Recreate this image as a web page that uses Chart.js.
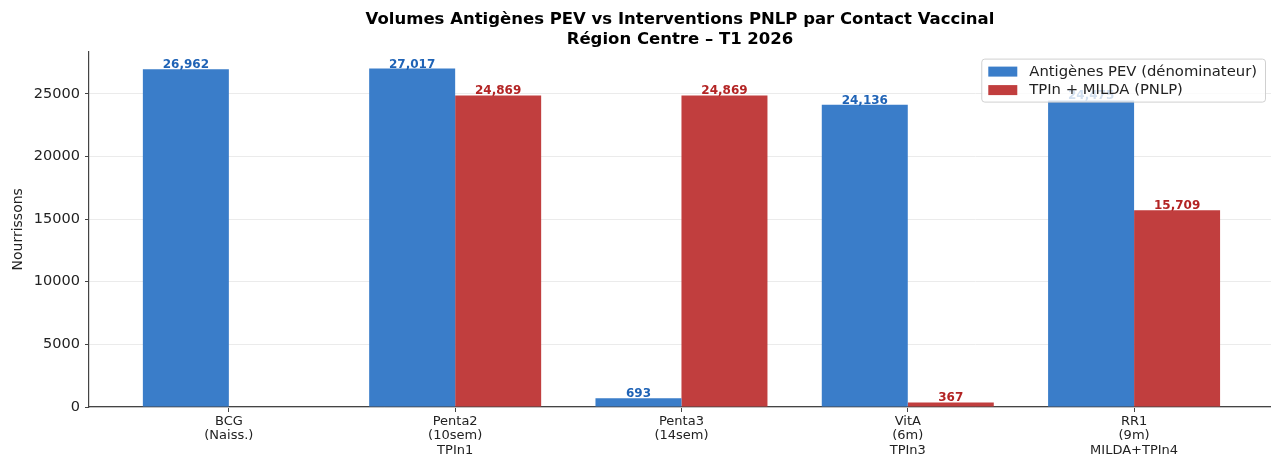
<!DOCTYPE html>
<html><head><meta charset="utf-8">
<script src="https://cdn.jsdelivr.net/npm/chart.js@4.4.1/dist/chart.umd.min.js"></script>
<style>html,body{margin:0;padding:0;background:#fff;} canvas{display:block;}</style>
</head><body>
<canvas id="c" width="1271" height="456"></canvas>
<script>
const categories = [["BCG","(Naiss.)"],["Penta2","(10sem)","TPIn1"],["Penta3","(14sem)"],["VitA","(6m)","TPIn3"],["RR1","(9m)","MILDA+TPIn4"]];
const pevValues = [26962, 27017, 693, 24136, 24475];
const pnlpValues = [null, 24869, 24869, 367, 15709];
const seriesNames = ["Antigènes PEV (dénominateur)", "TPIn + MILDA (PNLP)"];
const yTicks = [0, 5000, 10000, 15000, 20000, 25000];
const titleLines = ["Volumes Antigènes PEV vs Interventions PNLP par Contact Vaccinal", "Région Centre – T1 2026"];
const yAxisTitle = "Nourrissons";

const FONT = "'DejaVu Sans', sans-serif";
const BLUE = '#3A7DC9', RED = '#C13E3E';
const BLUE_TXT = '#1f63b6', RED_TXT = '#b32424';

Chart.defaults.font.family = FONT;
Chart.defaults.color = '#222';

const fmt = v => v.toLocaleString('en-US');

const valueLabels = {
  id: 'valueLabels',
  afterDatasetsDraw(chart) {
    const ctx = chart.ctx;
    ctx.save();
    ctx.font = "bold 12px " + FONT;
    ctx.textAlign = 'center';
    ctx.textBaseline = 'alphabetic';
    chart.data.datasets.forEach((ds, di) => {
      const meta = chart.getDatasetMeta(di);
      meta.data.forEach((el, i) => {
        const v = ds.data[i].y;
        if (v === null || v === 0) return;
        ctx.fillStyle = di === 0 ? BLUE_TXT : RED_TXT;
        ctx.fillText(fmt(v), el.x, el.y - 1);
      });
    });
    ctx.restore();
  }
};

const boxLegend = {
  id: 'boxLegend',
  afterDraw(chart) {
    const ctx = chart.ctx;
    const ca = chart.chartArea;
    ctx.save();
    ctx.font = "14.8px " + FONT;
    const tw = Math.max(...seriesNames.map(s => ctx.measureText(s).width));
    const right = ca.right - 6, top = ca.top + 7;
    const w = 48 + tw + 8, h = 43;
    const left = right - w;
    ctx.beginPath();
    if (ctx.roundRect) ctx.roundRect(left + 0.5, top + 0.5, w, h, 3); else ctx.rect(left + 0.5, top + 0.5, w, h);
    ctx.fillStyle = 'rgba(255,255,255,0.8)';
    ctx.fill();
    ctx.strokeStyle = '#d0d0d0';
    ctx.lineWidth = 1;
    ctx.stroke();
    const colors = [BLUE, RED];
    ctx.textBaseline = 'middle';
    ctx.textAlign = 'left';
    seriesNames.forEach((s, i) => {
      const cy = top + 13 + i * 18.5;
      ctx.fillStyle = colors[i];
      ctx.fillRect(left + 7, cy - 5, 29, 10);
      ctx.fillStyle = '#222';
      ctx.fillText(s, left + 48, cy + 0.5);
    });
    ctx.restore();
  }
};

const xMin = -0.618, xMax = 4.605;

new Chart(document.getElementById('c'), {
  type: 'bar',
  data: {
    datasets: [
      { label: seriesNames[0], data: pevValues.map((v, i) => ({x: i, y: v})), backgroundColor: BLUE, borderWidth: 0, categoryPercentage: 0.76, barPercentage: 1.0 },
      { label: seriesNames[1], data: pnlpValues.map((v, i) => ({x: i, y: v})), backgroundColor: RED, borderWidth: 0, categoryPercentage: 0.76, barPercentage: 1.0 }
    ]
  },
  options: {
    responsive: false,
    animation: false,
    devicePixelRatio: 1,
    layout: { padding: { left: 0, right: 0, top: 0, bottom: 0 } },
    plugins: {
      legend: { display: false },
      tooltip: { enabled: false },
      title: {
        display: true,
        text: titleLines,
        fullSize: false,
        color: '#000',
        font: { family: FONT, size: 16.5, weight: 'bold', lineHeight: 1.2 },
        padding: { top: 10, bottom: 2 }
      }
    },
    scales: {
      x: {
        type: 'linear',
        min: xMin, max: xMax,
        offset: false,
        afterBuildTicks(scale) { scale.ticks = categories.map((c, i) => ({ value: i })); },
        afterFit(scale) { scale.height = 49; },
        ticks: {
          callback: (v) => categories[v] || '',
          font: { family: FONT, size: 13, lineHeight: 1.12 },
          color: '#222',
          padding: 2,
          maxRotation: 0, autoSkip: false
        },
        grid: { display: true, offset: false, drawOnChartArea: false, drawTicks: true, tickLength: 5, tickColor: '#444', tickWidth: 1 },
        border: { display: true, color: '#444', width: 1.2 }
      },
      y: {
        min: 0, max: 28370,
        afterBuildTicks(scale) { scale.ticks = yTicks.map(v => ({ value: v })); },
        afterFit(scale) { scale.width = 89; },
        ticks: {
          callback: (v) => String(v),
          font: { family: FONT, size: 14.5 },
          color: '#222',
          padding: 5
        },
        grid: { color: '#ebebeb', lineWidth: 1, drawTicks: true, tickLength: 4, tickColor: '#444' },
        border: { display: true, color: '#444', width: 1.2 },
        title: { display: true, text: yAxisTitle, font: { family: FONT, size: 14 }, color: '#222', padding: { top: 10, bottom: 0 } }
      }
    }
  },
  plugins: [valueLabels, boxLegend]
});
</script>
</body></html>
